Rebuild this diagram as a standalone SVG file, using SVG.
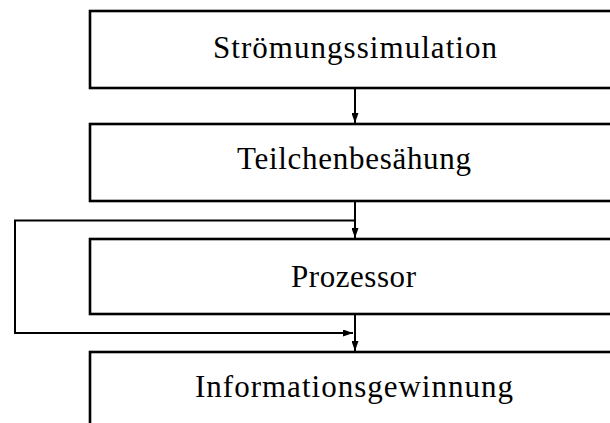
<svg xmlns="http://www.w3.org/2000/svg" width="610" height="423" viewBox="0 0 610 423">
<style>
.box{fill:#fff;stroke:#000;stroke-width:2.6}
.lbl{font-family:"Liberation Serif","Times New Roman",serif;font-size:31px;fill:#000}
.con{fill:none;stroke:#000;stroke-width:2}
</style>
<defs>
<marker id="ah" viewBox="0 0 10 7" refX="10" refY="3.5" markerWidth="10" markerHeight="7" markerUnits="userSpaceOnUse" orient="auto">
<path d="M0,0 L10,3.5 L0,7 z" fill="#000"/>
</marker>
</defs>
<rect width="610" height="423" fill="#fff"/>
<g id="n1"><rect class="box" x="90" y="11" width="540" height="77"/><text class="lbl" x="213" y="57.5" textLength="284" lengthAdjust="spacing">Strömungssimulation</text></g>
<g id="n2"><rect class="box" x="90" y="124" width="540" height="77"/><text class="lbl" x="237" y="168.5" textLength="234" lengthAdjust="spacing">Teilchenbesähung</text></g>
<g id="n3"><rect class="box" x="90" y="239" width="540" height="75"/><text class="lbl" x="291" y="286.5" textLength="125" lengthAdjust="spacing">Prozessor</text></g>
<g id="n4"><rect class="box" x="90" y="352" width="540" height="90"/><text class="lbl" x="195" y="396.5" textLength="318" lengthAdjust="spacing">Informationsgewinnung</text></g>
<g id="connectors">
<path class="con" d="M355,88 V123" marker-end="url(#ah)"/>
<path class="con" d="M355,201 V238" marker-end="url(#ah)"/>
<path class="con" d="M355,220.5 H15 V333 H353" marker-end="url(#ah)"/>
<path class="con" d="M355,314 V351" marker-end="url(#ah)"/>
</g>
</svg>
